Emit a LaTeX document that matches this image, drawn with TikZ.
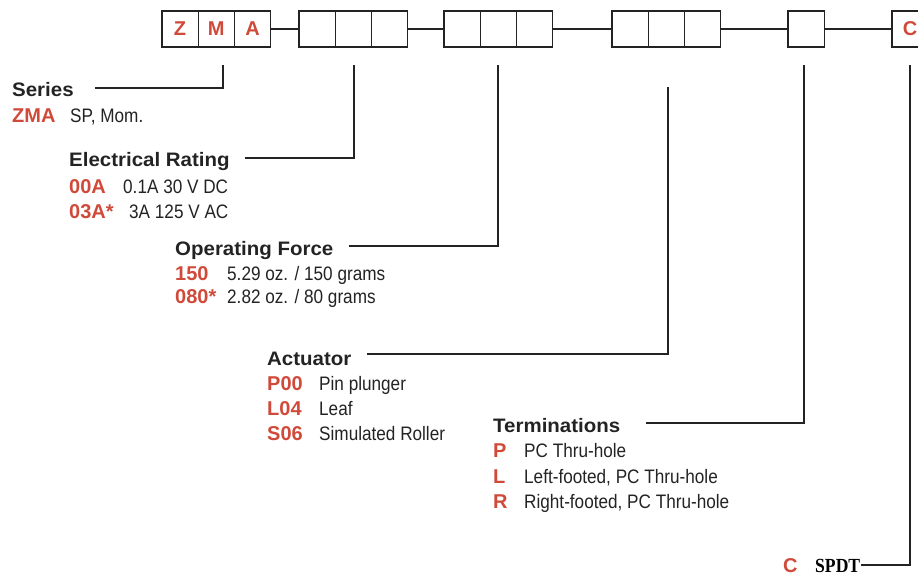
\documentclass[tikz,border=0pt]{standalone}
\usepackage{fontspec}
\setmainfont{Liberation Sans}
\newfontfamily\condfont[FakeStretch=0.88]{Liberation Sans}
\newfontfamily\widefont[FakeStretch=1.05]{Liberation Sans}
\newfontfamily\spdtfont[FakeStretch=0.88]{Liberation Serif}
\usepackage{tikz}
\usetikzlibrary{positioning}
\definecolor{zred}{RGB}{208,74,58}
\definecolor{zink}{RGB}{35,35,35}
\tikzstyle{slot} = [draw=zink, line width=1.2pt, minimum width=36.2pt, minimum height=36pt, inner sep=0pt, outer sep=0pt, text=zred, font=\bfseries\fontsize{20}{20}\selectfont]
\tikzstyle{HDR}  = [anchor=base west, inner sep=0pt, text=zink, font=\widefont\bfseries\fontsize{19.5}{20}\selectfont]
\tikzstyle{CODE} = [anchor=base west, inner sep=0pt, text=zred, font=\bfseries\fontsize{20}{20}\selectfont]
\tikzstyle{DESC} = [anchor=base west, inner sep=0pt, text=zink, font=\condfont\fontsize{19.5}{20}\selectfont]
\tikzstyle{SPDT_TXT} = [anchor=base west, inner sep=0pt, text=black, font=\spdtfont\bfseries\fontsize{20}{20}\selectfont]
\tikzstyle{lead} = [draw=zink, line width=1.2pt]

\begin{document}
\begin{tikzpicture}[x=1pt, y=-1pt, node distance=0pt]
  \useasboundingbox (0,0) rectangle (918,575);

  % part number slots
  \node[slot] (S_1) at (180.1,29) {Z};
  \node[slot, right=of S_1] (S_2) {M};
  \node[slot, right=of S_2] (S_3) {A};
  \node[slot] (S_4) at (317,29) {};
  \node[slot, right=of S_4] (S_5) {};
  \node[slot, right=of S_5] (S_6) {};
  \node[slot] (S_7) at (462,29) {};
  \node[slot, right=of S_7] (S_8) {};
  \node[slot, right=of S_8] (S_9) {};
  \node[slot] (S_10) at (630,29) {};
  \node[slot, right=of S_10] (S_11) {};
  \node[slot, right=of S_11] (S_12) {};
  \node[slot] (S_13) at (806,29) {};
  \node[slot] (S_14) at (910,29) {C};

  \draw[lead] (S_3.east) -- (S_4.west);
  \draw[lead] (S_6.east) -- (S_7.west);
  \draw[lead] (S_9.east) -- (S_10.west);
  \draw[lead] (S_12.east) -- (S_13.west);
  \draw[lead] (S_13.east) -- (S_14.west);

  % leader tops
  \coordinate (T_ser)   at (223,65);
  \coordinate (T_elec)  at (354,65);
  \coordinate (T_force) at (498,65);
  \coordinate (T_act)   at (668,87);
  \coordinate (T_term)  at (804,65);
  \coordinate (T_spdt)  at (910,65);

  % Series
  \node[HDR]  (H_ser)  at (12,97)  {Series};
  \node[CODE] (C_zma)  at (12,123) {ZMA};
  \node[DESC] (D_zma)  at (70,123) {SP, Mom.};
  \draw[lead] ([xshift=21pt,yshift=9pt]H_ser.base east) -| (T_ser);

  % Electrical Rating
  \node[HDR]  (H_elec) at (69,167)  {Electrical Rating};
  \node[CODE] (C_00a)  at (69,193)  {00A};
  \node[DESC] (D_00a)  at (123,193) {0.1A 30 V DC};
  \node[CODE] (C_03a)  at (69,218)  {03A*};
  \node[DESC] (D_03a)  at (129,218) {3A 125 V AC};
  \draw[lead] ([xshift=15pt,yshift=9pt]H_elec.base east) -| (T_elec);

  % Operating Force
  \node[HDR]  (H_force) at (175,255) {Operating Force};
  \node[CODE] (C_150)   at (175,280) {150};
  \node[DESC] (D_150)   at (227,280) {5.29 oz. / 150 grams};
  \node[CODE] (C_080)   at (175,303) {080*};
  \node[DESC] (D_080)   at (227,303) {2.82 oz. / 80 grams};
  \draw[lead] ([xshift=15pt,yshift=9pt]H_force.base east) -| (T_force);

  % Actuator
  \node[HDR]  (H_act) at (267,365) {Actuator};
  \node[CODE] (C_p00) at (267,390) {P00};
  \node[DESC] (D_p00) at (319,390) {Pin plunger};
  \node[CODE] (C_l04) at (267,415) {L04};
  \node[DESC] (D_l04) at (319,415) {Leaf};
  \node[CODE] (C_s06) at (267,440) {S06};
  \node[DESC] (D_s06) at (319,440) {Simulated Roller};
  \draw[lead] ([xshift=15pt,yshift=11pt]H_act.base east) -| (T_act);

  % Terminations
  \node[HDR]  (H_term) at (493,432) {Terminations};
  \node[CODE] (C_p)    at (493,457) {P};
  \node[DESC] (D_p)    at (524,457) {PC Thru-hole};
  \node[CODE] (C_l)    at (493,483) {L};
  \node[DESC] (D_l)    at (524,483) {Left-footed, PC Thru-hole};
  \node[CODE] (C_r)    at (493,508) {R};
  \node[DESC] (D_r)    at (524,508) {Right-footed, PC Thru-hole};
  \draw[lead] ([xshift=26pt,yshift=9pt]H_term.base east) -| (T_term);

  % Circuit
  \node[CODE]     (C_c)    at (783,572) {C};
  \node[SPDT_TXT] (D_spdt) at (815,572) {SPDT};
  \draw[lead] ([xshift=1pt,yshift=7pt]D_spdt.base east) -| (T_spdt);
\end{tikzpicture}
\end{document}
